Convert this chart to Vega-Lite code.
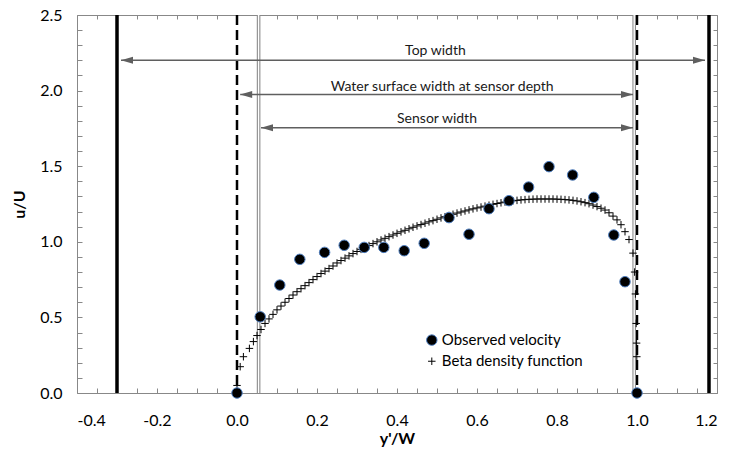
{
  "$schema": "https://vega.github.io/schema/vega-lite/v6.json",
  "width": 640,
  "height": 378,
  "autosize": "none",
  "padding": {"left": 77, "top": 15, "right": 12, "bottom": 61},
  "background": "white",
  "config": {
    "font": "Lato",
    "view": {"stroke": "#888888", "strokeWidth": 1},
    "axis": {"grid": false, "domain": false, "tickColor": "#888888", "labelColor": "#000000", "titleColor": "#000000", "labelFont": "Lato", "titleFont": "Lato"}
  },
  "datasets": {
    "observed": [
      {"x": 0.0, "y": 0.0},
      {"x": 0.058, "y": 0.504},
      {"x": 0.107, "y": 0.714},
      {"x": 0.157, "y": 0.884},
      {"x": 0.219, "y": 0.93},
      {"x": 0.268, "y": 0.977},
      {"x": 0.318, "y": 0.963},
      {"x": 0.367, "y": 0.963},
      {"x": 0.418, "y": 0.941},
      {"x": 0.468, "y": 0.99},
      {"x": 0.53, "y": 1.16},
      {"x": 0.58, "y": 1.05},
      {"x": 0.63, "y": 1.219},
      {"x": 0.68, "y": 1.272},
      {"x": 0.729, "y": 1.362},
      {"x": 0.78, "y": 1.497},
      {"x": 0.839, "y": 1.442},
      {"x": 0.892, "y": 1.294},
      {"x": 0.942, "y": 1.045},
      {"x": 0.97, "y": 0.736},
      {"x": 1.0, "y": 0.0}
    ],
    "beta": [
      {"x": 0.0, "y": 0.05}, {"x": 0.008, "y": 0.174}, {"x": 0.016, "y": 0.24}, {"x": 0.031, "y": 0.295},
      {"x": 0.041, "y": 0.34}, {"x": 0.05, "y": 0.38}, {"x": 0.06, "y": 0.42}, {"x": 0.07, "y": 0.46},
      {"x": 0.08, "y": 0.49}, {"x": 0.09, "y": 0.52}, {"x": 0.1, "y": 0.55}, {"x": 0.11, "y": 0.575},
      {"x": 0.12, "y": 0.6}, {"x": 0.13, "y": 0.625}, {"x": 0.14, "y": 0.648}, {"x": 0.15, "y": 0.67},
      {"x": 0.16, "y": 0.69}, {"x": 0.17, "y": 0.71}, {"x": 0.18, "y": 0.73}, {"x": 0.19, "y": 0.75},
      {"x": 0.2, "y": 0.77}, {"x": 0.21, "y": 0.79}, {"x": 0.22, "y": 0.806}, {"x": 0.23, "y": 0.823},
      {"x": 0.24, "y": 0.84}, {"x": 0.25, "y": 0.86}, {"x": 0.26, "y": 0.876}, {"x": 0.27, "y": 0.892},
      {"x": 0.28, "y": 0.907}, {"x": 0.29, "y": 0.922}, {"x": 0.3, "y": 0.936}, {"x": 0.31, "y": 0.95},
      {"x": 0.32, "y": 0.963}, {"x": 0.33, "y": 0.975}, {"x": 0.34, "y": 0.988}, {"x": 0.35, "y": 1.0},
      {"x": 0.36, "y": 1.012}, {"x": 0.37, "y": 1.023}, {"x": 0.38, "y": 1.034}, {"x": 0.39, "y": 1.045},
      {"x": 0.4, "y": 1.056}, {"x": 0.41, "y": 1.066}, {"x": 0.42, "y": 1.076}, {"x": 0.43, "y": 1.086},
      {"x": 0.44, "y": 1.096}, {"x": 0.45, "y": 1.105}, {"x": 0.46, "y": 1.114}, {"x": 0.47, "y": 1.123},
      {"x": 0.48, "y": 1.132}, {"x": 0.49, "y": 1.14}, {"x": 0.5, "y": 1.149}, {"x": 0.51, "y": 1.158},
      {"x": 0.52, "y": 1.166}, {"x": 0.53, "y": 1.174}, {"x": 0.54, "y": 1.182}, {"x": 0.55, "y": 1.19},
      {"x": 0.56, "y": 1.197}, {"x": 0.57, "y": 1.204}, {"x": 0.58, "y": 1.211}, {"x": 0.59, "y": 1.218},
      {"x": 0.6, "y": 1.224}, {"x": 0.61, "y": 1.23}, {"x": 0.62, "y": 1.236}, {"x": 0.63, "y": 1.242},
      {"x": 0.64, "y": 1.248}, {"x": 0.65, "y": 1.253}, {"x": 0.66, "y": 1.258}, {"x": 0.67, "y": 1.263},
      {"x": 0.68, "y": 1.267}, {"x": 0.69, "y": 1.271}, {"x": 0.7, "y": 1.274}, {"x": 0.71, "y": 1.277},
      {"x": 0.72, "y": 1.279}, {"x": 0.73, "y": 1.281}, {"x": 0.74, "y": 1.282}, {"x": 0.75, "y": 1.283},
      {"x": 0.76, "y": 1.283}, {"x": 0.77, "y": 1.283}, {"x": 0.78, "y": 1.283}, {"x": 0.79, "y": 1.283},
      {"x": 0.8, "y": 1.282}, {"x": 0.81, "y": 1.281}, {"x": 0.82, "y": 1.279}, {"x": 0.83, "y": 1.277},
      {"x": 0.84, "y": 1.274}, {"x": 0.85, "y": 1.27}, {"x": 0.86, "y": 1.265}, {"x": 0.87, "y": 1.259},
      {"x": 0.88, "y": 1.252}, {"x": 0.89, "y": 1.243}, {"x": 0.9, "y": 1.233}, {"x": 0.91, "y": 1.222},
      {"x": 0.92, "y": 1.21}, {"x": 0.93, "y": 1.192}, {"x": 0.94, "y": 1.17}, {"x": 0.95, "y": 1.145},
      {"x": 0.96, "y": 1.113}, {"x": 0.97, "y": 1.067}, {"x": 0.98, "y": 1.015}, {"x": 0.99, "y": 0.925},
      {"x": 0.994, "y": 0.8}, {"x": 0.996, "y": 0.655}, {"x": 0.998, "y": 0.46}, {"x": 0.999, "y": 0.33},
      {"x": 0.9995, "y": 0.24}
    ],
    "walls": [{"x": -0.3}, {"x": 1.18}],
    "edges": [{"x": 0.0}, {"x": 1.0}],
    "sensor": [{"x": 0.054}, {"x": 0.993}],
    "arrows": [
      {"label": "Top width", "x1": -0.29, "x2": 1.17, "y": 2.2, "lx": 0.496, "ly": 2.235},
      {"label": "Water surface width at sensor depth", "x1": 0.008, "x2": 0.99, "y": 1.975, "lx": 0.513, "ly": 2.0},
      {"label": "Sensor width", "x1": 0.06, "x2": 0.99, "y": 1.755, "lx": 0.5, "ly": 1.784}
    ],
    "legend": [
      {"series": "Observed velocity", "x": 0.487, "y": 0.35},
      {"series": "Beta density function", "x": 0.487, "y": 0.21}
    ]
  },
  "layer": [
    {
      "data": {"name": "walls"},
      "mark": {"type": "rule", "color": "#000000", "strokeWidth": 3.5},
      "encoding": {
        "x": {"field": "x", "type": "quantitative", "scale": {"domain": [-0.4, 1.2], "nice": false, "zero": false},
          "axis": {"orient": "top", "values": [-0.4,-0.35,-0.3,-0.25,-0.2,-0.15,-0.1,-0.05,0,0.05,0.1,0.15,0.2,0.25,0.3,0.35,0.4,0.45,0.5,0.55,0.6,0.65,0.7,0.75,0.8,0.85,0.9,0.95,1,1.05,1.1,1.15,1.2], "labels": false, "title": null, "tickSize": -4}}
      }
    },
    {
      "data": {"name": "edges"},
      "mark": {"type": "rule", "color": "#000000", "strokeWidth": 2.5, "strokeDash": [10, 5]},
      "encoding": {
        "x": {"field": "x", "type": "quantitative", "scale": {"domain": [-0.4, 1.2], "nice": false, "zero": false}, "axis": null}
      }
    },
    {
      "data": {"name": "sensor"},
      "mark": {"type": "rule", "color": "#8c8c8c", "strokeWidth": 3.6},
      "encoding": {
        "x": {"field": "x", "type": "quantitative", "scale": {"domain": [-0.4, 1.2], "nice": false, "zero": false}, "axis": null}
      }
    },
    {
      "data": {"name": "sensor"},
      "mark": {"type": "rule", "color": "#ffffff", "strokeWidth": 1.4},
      "encoding": {
        "x": {"field": "x", "type": "quantitative", "scale": {"domain": [-0.4, 1.2], "nice": false, "zero": false}, "axis": null}
      }
    },
    {
      "data": {"name": "arrows"},
      "mark": {"type": "rule", "color": "#5f5f5f", "strokeWidth": 1.5},
      "encoding": {
        "x": {"field": "x1", "type": "quantitative", "scale": {"domain": [-0.4, 1.2], "nice": false, "zero": false}, "axis": null},
        "x2": {"field": "x2"},
        "y": {"field": "y", "type": "quantitative", "scale": {"domain": [0, 2.5], "nice": false}, "axis": null}
      }
    },
    {
      "data": {"name": "arrows"},
      "transform": [{"fold": ["x1", "x2"], "as": ["end", "xpos"]}],
      "mark": {"type": "point", "filled": true, "opacity": 1, "size": 100, "color": "#5f5f5f"},
      "encoding": {
        "x": {"field": "xpos", "type": "quantitative", "scale": {"domain": [-0.4, 1.2], "nice": false, "zero": false}, "axis": null},
        "y": {"field": "y", "type": "quantitative", "scale": {"domain": [0, 2.5], "nice": false}, "axis": null},
        "shape": {"field": "end", "type": "nominal", "legend": null,
          "scale": {"domain": ["x1", "x2"], "range": ["M0,0L2.4,-0.7L2.4,0.7Z", "M0,0L-2.4,-0.7L-2.4,0.7Z"]}}
      }
    },
    {
      "data": {"name": "arrows"},
      "mark": {"type": "text", "font": "Lato", "fontSize": 14, "color": "#1a1a1a", "align": "center", "baseline": "alphabetic"},
      "encoding": {
        "x": {"field": "lx", "type": "quantitative", "scale": {"domain": [-0.4, 1.2], "nice": false, "zero": false}, "axis": null},
        "y": {"field": "ly", "type": "quantitative", "scale": {"domain": [0, 2.5], "nice": false}, "axis": null},
        "text": {"field": "label"}
      }
    },
    {
      "data": {"name": "beta"},
      "mark": {"type": "point", "shape": "M-1,0H1M0,-1V1", "filled": false, "size": 56, "stroke": "#000000", "strokeWidth": 1, "opacity": 1},
      "encoding": {
        "x": {"field": "x", "type": "quantitative", "scale": {"domain": [-0.4, 1.2], "nice": false, "zero": false}, "axis": null},
        "y": {"field": "y", "type": "quantitative", "scale": {"domain": [0, 2.5], "nice": false},
          "axis": {"orient": "right", "values": [0,0.1,0.2,0.3,0.4,0.5,0.6,0.7,0.8,0.9,1,1.1,1.2,1.3,1.4,1.5,1.6,1.7,1.8,1.9,2,2.1,2.2,2.3,2.4,2.5], "labels": false, "title": null, "tickSize": -4}}
      }
    },
    {
      "data": {"name": "observed"},
      "mark": {"type": "point", "shape": "circle", "filled": true, "size": 110, "fill": "#000000", "stroke": "#4f7fc0", "strokeWidth": 1, "opacity": 1},
      "encoding": {
        "x": {"field": "x", "type": "quantitative", "scale": {"domain": [-0.4, 1.2], "nice": false, "zero": false},
          "axis": {"orient": "bottom", "values": [-0.4,-0.35,-0.3,-0.25,-0.2,-0.15,-0.1,-0.05,0,0.05,0.1,0.15,0.2,0.25,0.3,0.35,0.4,0.45,0.5,0.55,0.6,0.65,0.7,0.75,0.8,0.85,0.9,0.95,1,1.05,1.1,1.15,1.2],
            "format": ".1f", "labelExpr": "abs(datum.value*5 - round(datum.value*5)) < 0.001 ? replace(datum.label, '\u2212', '-') : ''",
            "tickSize": -5, "labelPadding": 24, "labelFontSize": 16, "title": "y'/W", "titleFontSize": 16, "titleFontWeight": "bold", "titlePadding": 2}},
        "y": {"field": "y", "type": "quantitative", "scale": {"domain": [0, 2.5], "nice": false},
          "axis": {"orient": "left", "values": [0,0.1,0.2,0.3,0.4,0.5,0.6,0.7,0.8,0.9,1,1.1,1.2,1.3,1.4,1.5,1.6,1.7,1.8,1.9,2,2.1,2.2,2.3,2.4,2.5],
            "format": ".1f", "labelExpr": "abs(datum.value*2 - round(datum.value*2)) < 0.001 ? datum.label : ''",
            "tickSize": -5, "labelPadding": 20, "labelFontSize": 16, "title": "u/U", "titleFontSize": 16, "titleFontWeight": "bold", "titlePadding": 12}}
      }
    },
    {
      "data": {"name": "legend"},
      "transform": [{"filter": "datum.series == 'Observed velocity'"}],
      "mark": {"type": "point", "shape": "circle", "filled": true, "size": 110, "fill": "#000000", "stroke": "#4f7fc0", "strokeWidth": 1, "opacity": 1},
      "encoding": {
        "x": {"field": "x", "type": "quantitative", "scale": {"domain": [-0.4, 1.2], "nice": false, "zero": false}, "axis": null},
        "y": {"field": "y", "type": "quantitative", "scale": {"domain": [0, 2.5], "nice": false}, "axis": null}
      }
    },
    {
      "data": {"name": "legend"},
      "transform": [{"filter": "datum.series == 'Beta density function'"}],
      "mark": {"type": "point", "shape": "M-1,0H1M0,-1V1", "filled": false, "size": 56, "stroke": "#000000", "strokeWidth": 1, "opacity": 1},
      "encoding": {
        "x": {"field": "x", "type": "quantitative", "scale": {"domain": [-0.4, 1.2], "nice": false, "zero": false}, "axis": null},
        "y": {"field": "y", "type": "quantitative", "scale": {"domain": [0, 2.5], "nice": false}, "axis": null}
      }
    },
    {
      "data": {"name": "legend"},
      "mark": {"type": "text", "font": "Lato", "fontSize": 15, "color": "#000000", "align": "left", "baseline": "middle", "dx": 10},
      "encoding": {
        "x": {"field": "x", "type": "quantitative", "scale": {"domain": [-0.4, 1.2], "nice": false, "zero": false}, "axis": null},
        "y": {"field": "y", "type": "quantitative", "scale": {"domain": [0, 2.5], "nice": false}, "axis": null},
        "text": {"field": "series"}
      }
    }
  ]
}
